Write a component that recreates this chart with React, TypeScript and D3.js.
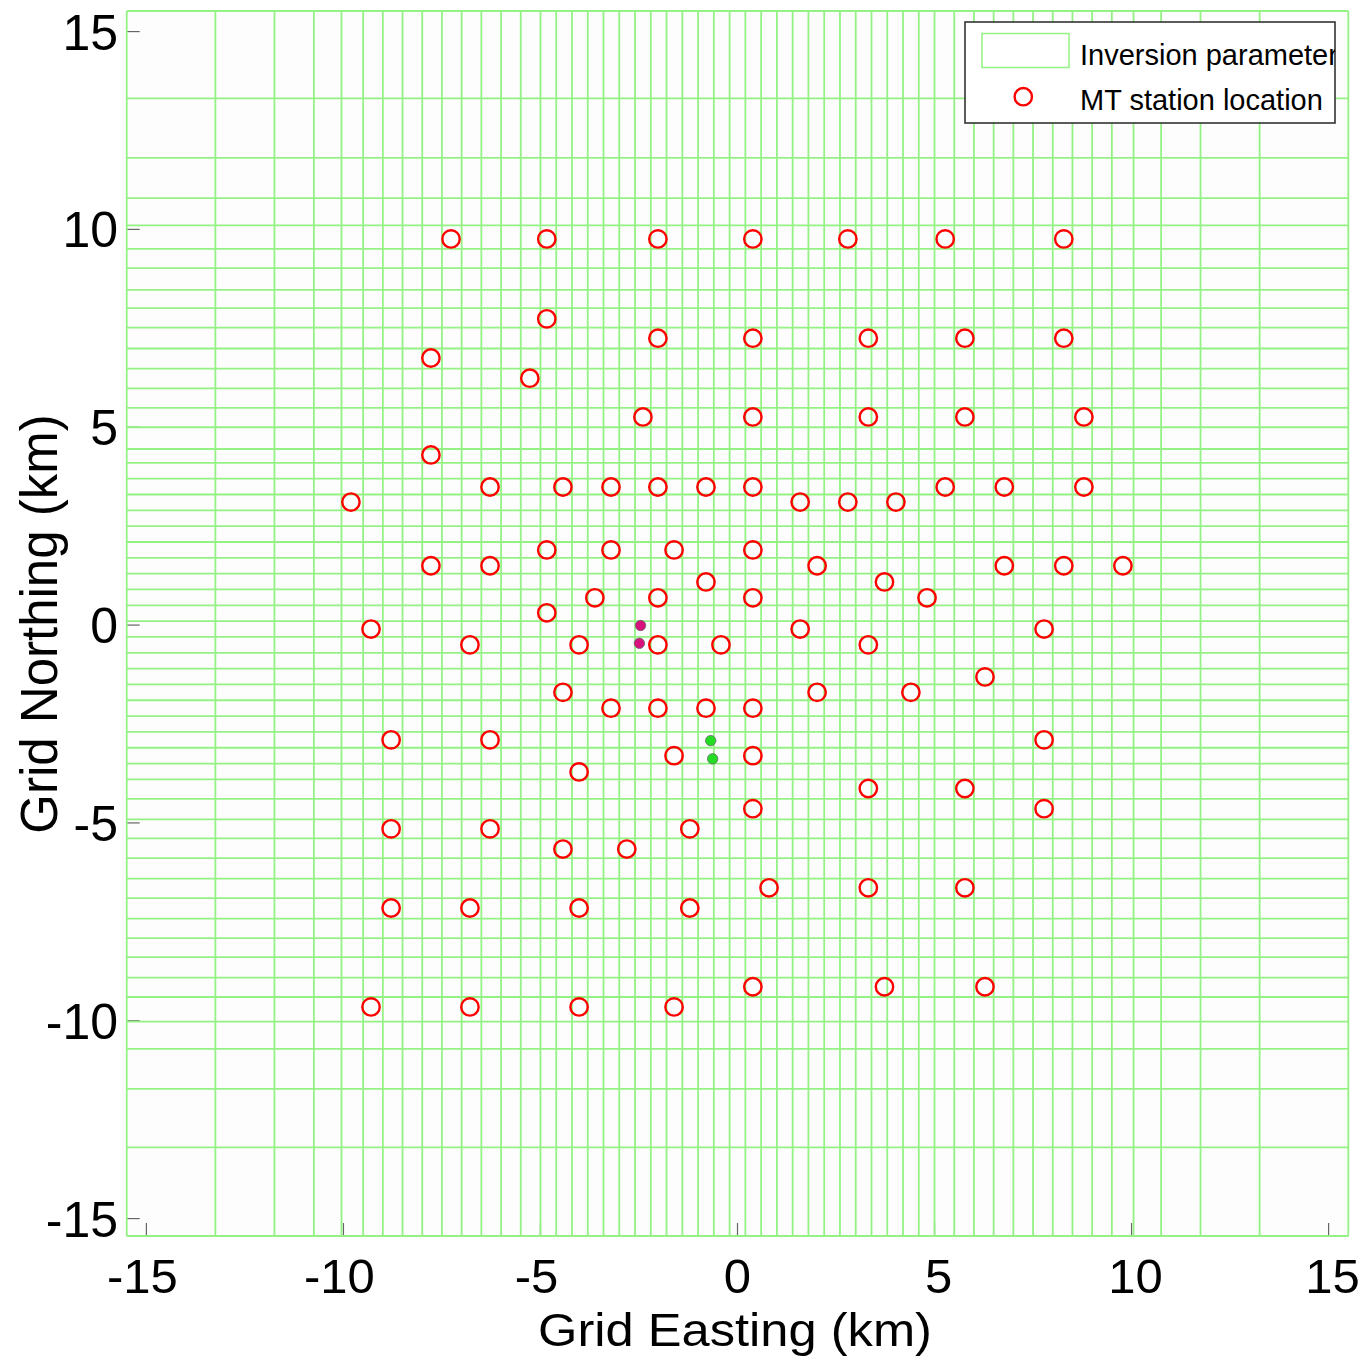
import React from "react";
import * as d3 from "d3";

// ---- Data (km) ----
const xGridKm = [-15.5, -13.25, -11.75, -10.75, -10.05, -9.5, -9.0, -8.5, -8.0, -7.5, -7.0, -6.5, -6.0, -5.5, -5.0,
  -4.6, -4.2, -3.8, -3.4, -3.0, -2.6, -2.2, -1.8, -1.4, -1.0, -0.6, -0.2, 0.2, 0.6, 1.0, 1.4, 1.8, 2.2, 2.6, 3.0,
  3.4, 3.8, 4.2, 4.6, 5.0, 5.5, 6.0, 6.5, 7.0, 7.5, 8.0, 8.5, 9.0, 9.5, 10.05, 10.75, 11.75, 13.25, 15.5];

const yGridKm = [-15.44, -13.2, -11.72, -10.71, -10.02, -9.4, -8.91, -8.39, -7.91, -7.42, -6.9, -6.41, -5.89, -5.39,
  -4.91, -4.39, -3.9, -3.5, -3.1, -2.7, -2.3, -1.9, -1.5, -1.1, -0.7, -0.3, 0.1, 0.5, 0.9, 1.3, 1.7, 2.1, 2.5, 2.9,
  3.3, 3.7, 4.1, 4.45, 5.0, 5.49, 5.98, 6.48, 6.99, 7.52, 8.01, 8.47, 9.02, 9.51, 10.1, 10.79, 11.81, 13.31, 15.52];

const stationEast = [
  -7.27, -4.84, -2.02, 0.39, 2.80, 5.27, 8.28,
  -4.84,
  -2.02, 0.39, 3.32, 5.77, 8.28,
  -7.78,
  -5.27,
  -2.40, 0.39, 3.32, 5.77, 8.79,
  -7.78,
  -6.28, -4.43, -3.21, -2.02, -0.80, 0.39, 5.27, 6.77, 8.79,
  -9.81, 1.59, 2.80, 4.02,
  -4.84, -3.21, -1.61, 0.39,
  -7.78, -6.28, 2.02, 6.77, 8.28, 9.78,
  -0.80, 3.73,
  -3.62, -2.02, 0.39, 4.81,
  -4.84,
  -9.30, 1.59, 7.78,
  -6.79, -4.02, -2.02, -0.42, 3.32,
  6.28,
  -4.43, 2.02, 4.40,
  -3.21, -2.02, -0.80, 0.39,
  -8.79, -6.28, 7.78,
  -1.61, 0.39,
  -4.02,
  3.32, 5.77,
  0.39, 7.78,
  -8.79, -6.28, -1.21,
  -4.43, -2.81,
  0.80, 3.32, 5.77,
  -8.79, -6.79, -4.02, -1.21,
  0.39, 3.73, 6.28,
  -9.30, -6.79, -4.02, -1.61,
];

const stationNorth = [
  9.76, 9.76, 9.76, 9.76, 9.76, 9.76, 9.76,
  7.74,
  7.25, 7.25, 7.25, 7.25, 7.25,
  6.75,
  6.24,
  5.26, 5.26, 5.26, 5.26, 5.26,
  4.30,
  3.49, 3.49, 3.49, 3.49, 3.49, 3.49, 3.49, 3.49, 3.49,
  3.11, 3.11, 3.11, 3.11,
  1.90, 1.90, 1.90, 1.90,
  1.50, 1.50, 1.50, 1.50, 1.50, 1.50,
  1.09, 1.09,
  0.69, 0.69, 0.69, 0.69,
  0.31,
  -0.10, -0.10, -0.10,
  -0.50, -0.50, -0.50, -0.50, -0.50,
  -1.31,
  -1.70, -1.70, -1.70,
  -2.10, -2.10, -2.10, -2.10,
  -2.90, -2.90, -2.90,
  -3.30, -3.30,
  -3.71,
  -4.13, -4.13,
  -4.64, -4.64,
  -5.15, -5.15, -5.15,
  -5.66, -5.66,
  -6.64, -6.64, -6.64,
  -7.15, -7.15, -7.15, -7.15,
  -9.14, -9.14, -9.14,
  -9.65, -9.65, -9.65, -9.65,
];

const magentaEast = [-2.46, -2.49];
const magentaNorth = [-0.01, -0.46];
const greenEast = [-0.68, -0.63];
const greenNorth = [-2.92, -3.38];

const tickValues = [-15, -10, -5, 0, 5, 10, 15];
const xLim = [-15.5, 15.5];
const yLim = [-15.44, 15.52];
const legendLabels = ["Inversion parameter", "MT station location"];
const xTitle = "Grid Easting (km)";
const yTitle = "Grid Northing (km)";

// ---- Layout ----
const W = 1359;
const H = 1357;
const LEFT = 126.7;
const RIGHT = 1348.3;
const TOP = 11;
const BOTTOM = 1236;
const FONT = "'Liberation Sans', Arial, Helvetica, sans-serif";
const GRID = "#94f284";

export default function App() {
  const x = d3.scaleLinear().domain(xLim).range([LEFT, RIGHT]);
  const y = d3.scaleLinear().domain(yLim).range([BOTTOM, TOP]);
  const labelShift = (t: number) => (t < 0 ? -4 : t > 0 ? 4 : 0);

  return (
    <div style={{ position: "absolute", left: 0, top: 0 }}>
      <svg width={W} height={H} style={{ display: "block", background: "#fff" }}>
        <defs>
          <clipPath id="legclip">
            <rect x={965} y={22} width={370} height={101} />
          </clipPath>
        </defs>
        <rect x={LEFT} y={TOP} width={RIGHT - LEFT} height={BOTTOM - TOP} fill="#fdfdfd" />

        {/* ticks (under grid) */}
        {tickValues.map((t) => (
          <line key={"yt" + t} x1={LEFT} x2={LEFT + 13} y1={y(t)} y2={y(t)} stroke="#666" strokeWidth={1.2} />
        ))}
        {tickValues.map((t) => (
          <line key={"xt" + t} x1={x(t)} x2={x(t)} y1={BOTTOM} y2={BOTTOM - 13} stroke="#666" strokeWidth={1.2} />
        ))}

        {/* grid */}
        {xGridKm.map((v, i) => (
          <line key={"gx" + i} x1={x(v)} x2={x(v)} y1={y(yLim[0])} y2={y(yLim[1])} stroke={GRID} strokeWidth={1.8} />
        ))}
        {yGridKm.map((v, i) => (
          <line key={"gy" + i} x1={x(xLim[0])} x2={x(xLim[1])} y1={y(v)} y2={y(v)} stroke={GRID} strokeWidth={1.8} />
        ))}

        {/* stations */}
        {stationEast.map((e, i) => (
          <circle key={"st" + i} cx={x(e)} cy={y(stationNorth[i])} r={8.7} fill="none" stroke="#ff0000" strokeWidth={2.4} />
        ))}

        {magentaEast.map((e, i) => (
          <circle key={"mg" + i} cx={x(e)} cy={y(magentaNorth[i])} r={5.2} fill="#d8127c" stroke="#666" strokeWidth={0.8} />
        ))}
        {greenEast.map((e, i) => (
          <circle key={"gr" + i} cx={x(e)} cy={y(greenNorth[i])} r={5.2} fill="#22dd22" stroke="#666" strokeWidth={0.8} />
        ))}

        {/* y tick labels */}
        {tickValues.map((t) => (
          <text key={"yl" + t} x={118} y={y(t) + 18} textAnchor="end" fontFamily={FONT} fontSize={50} fill="#000">
            {t}
          </text>
        ))}
        {/* x tick labels */}
        {tickValues.map((t) => (
          <text key={"xl" + t} x={x(t) + labelShift(t)} y={1293} textAnchor="middle" fontFamily={FONT} fontSize={49} fill="#000">
            {t}
          </text>
        ))}

        <text x={735} y={1346} textAnchor="middle" fontFamily={FONT} fontSize={47} textLength={394} lengthAdjust="spacingAndGlyphs" fill="#000">
          {xTitle}
        </text>
        <text transform="translate(57,624) rotate(-90)" textAnchor="middle" fontFamily={FONT} fontSize={51} fill="#000">
          {yTitle}
        </text>

        {/* legend */}
        <rect x={965} y={22} width={370} height={101} fill="#fff" stroke="#333" strokeWidth={1.6} />
        <g clipPath="url(#legclip)">
          <rect x={982} y={33.5} width={87} height={34} fill="none" stroke={GRID} strokeWidth={1.5} />
          <circle cx={1023.3} cy={96.7} r={8.7} fill="none" stroke="#ff0000" strokeWidth={2.4} />
          <text x={1080} y={65} fontFamily={FONT} fontSize={29} fill="#000">{legendLabels[0]}</text>
          <text x={1080} y={110} fontFamily={FONT} fontSize={29} fill="#000">{legendLabels[1]}</text>
        </g>
      </svg>
    </div>
  );
}
